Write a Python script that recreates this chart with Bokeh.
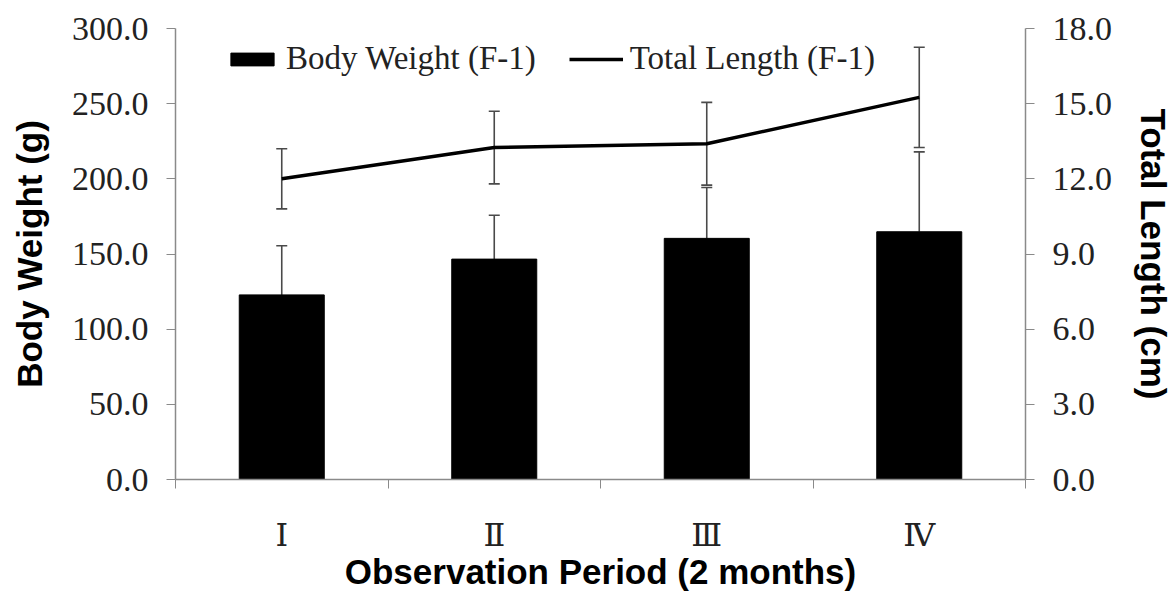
from bokeh.plotting import figure
from bokeh.models import (Range1d, LinearAxis, FixedTicker, NumeralTickFormatter,
                          ColumnDataSource, Whisker, TeeHead, Legend, LegendItem)
from bokeh.embed import file_html
from bokeh.resources import INLINE

# ---- data ----
categories = ["Ⅰ", "Ⅱ", "Ⅲ", "Ⅳ"]
body_weight = [122.8, 146.6, 160.4, 164.8]
body_weight_sd = [32.7, 29.2, 33.8, 53.1]
total_length = [12.0, 13.25, 13.4, 15.25]
total_length_sd = [1.2, 1.45, 1.65, 2.0]
weight_ticks = [0, 50, 100, 150, 200, 250, 300]
length_ticks = [0, 3, 6, 9, 12, 15, 18]

n = len(categories)
xpos = [i + 0.5 for i in range(n)]
bounds = [i for i in range(n + 1)]

src = ColumnDataSource(dict(
    x=xpos,
    bw=body_weight,
    bw_up=[v + s for v, s in zip(body_weight, body_weight_sd)],
    tl=total_length,
    tl_up=[v + s for v, s in zip(total_length, total_length_sd)],
    tl_lo=[v - s for v, s in zip(total_length, total_length_sd)],
))

AX_COL = "#8a8a8a"
TXT_COL = "#222222"
ERR_COL = "#4a4a4a"

p = figure(width=1176, height=593, output_backend="svg", toolbar_location=None,
           x_range=Range1d(0, n), y_range=Range1d(weight_ticks[0], weight_ticks[-1]),
           min_border_left=175, min_border_right=148, min_border_top=28,
           min_border_bottom=113)
p.outline_line_color = None
p.grid.visible = False
p.background_fill_color = "white"

p.extra_y_ranges = {"tl": Range1d(length_ticks[0], length_ticks[-1])}

bars = p.vbar(x="x", top="bw", width=0.4, source=src, fill_color="black", line_color="black")

bw_err = Whisker(base="x", upper="bw_up", lower="bw", source=src, dimension="height",
                 line_color=ERR_COL, line_width=1.6,
                 upper_head=TeeHead(size=11, line_color=ERR_COL, line_width=1.6),
                 lower_head=None)
p.add_layout(bw_err)

tl_err = Whisker(base="x", upper="tl_up", lower="tl_lo", source=src, dimension="height",
                 y_range_name="tl", line_color=ERR_COL, line_width=1.6,
                 upper_head=TeeHead(size=11, line_color=ERR_COL, line_width=1.6),
                 lower_head=TeeHead(size=11, line_color=ERR_COL, line_width=1.6))
p.add_layout(tl_err)

line = p.line(x="x", y="tl", source=src, y_range_name="tl", line_color="black", line_width=3.5)

# x axis
xa = p.xaxis[0]
xa.ticker = FixedTicker(ticks=xpos, minor_ticks=bounds)
xa.major_label_overrides = {x: c for x, c in zip(xpos, categories)}
xa.major_tick_out = 0
xa.major_tick_in = 0
xa.minor_tick_out = 9
xa.minor_tick_in = 0
xa.minor_tick_line_color = AX_COL
xa.axis_line_color = AX_COL
xa.axis_line_width = 1.5
xa.major_label_text_font = "DejaVu Serif"
xa.major_label_text_font_size = "32px"
xa.major_label_text_color = TXT_COL
xa.major_label_standoff = 27
xa.axis_label = "Observation Period (2 months)"
xa.axis_label_text_font = "Liberation Sans"
xa.axis_label_text_font_style = "bold"
xa.axis_label_text_font_size = "35px"
xa.axis_label_text_color = "black"
xa.axis_label_standoff = -5

# left axis
ya = p.yaxis[0]
ya.ticker = FixedTicker(ticks=weight_ticks)
ya.formatter = NumeralTickFormatter(format="0.0")
ya.minor_tick_line_color = None
ya.major_tick_out = 9
ya.major_tick_in = 0
ya.major_tick_line_color = AX_COL
ya.axis_line_color = AX_COL
ya.axis_line_width = 1.5
ya.major_label_text_font = "Liberation Serif"
ya.major_label_text_font_size = "34px"
ya.major_label_text_color = TXT_COL
ya.major_label_standoff = 18
ya.axis_label = "Body Weight (g)"
ya.axis_label_text_font = "Liberation Sans"
ya.axis_label_text_font_style = "bold"
ya.axis_label_text_font_size = "35px"
ya.axis_label_text_color = "black"
ya.axis_label_standoff = 20

# right axis
ra = LinearAxis(y_range_name="tl", ticker=FixedTicker(ticks=length_ticks),
                formatter=NumeralTickFormatter(format="0.0"))
ra.minor_tick_line_color = None
ra.major_tick_out = 9
ra.major_tick_in = 0
ra.major_tick_line_color = AX_COL
ra.axis_line_color = AX_COL
ra.axis_line_width = 1.5
ra.major_label_text_font = "Liberation Serif"
ra.major_label_text_font_size = "34px"
ra.major_label_text_color = TXT_COL
ra.major_label_standoff = 18
ra.axis_label = "Total Length (cm)"
ra.axis_label_text_font = "Liberation Sans"
ra.axis_label_text_font_style = "bold"
ra.axis_label_text_font_size = "35px"
ra.axis_label_text_color = "black"
ra.axis_label_standoff = 19
p.add_layout(ra, "right")

legend = Legend(items=[LegendItem(label="Body Weight (F-1)", renderers=[bars]),
                       LegendItem(label="Total Length (F-1)", renderers=[line])],
                orientation="horizontal", location=(50, 402),
                label_text_font="Liberation Serif", label_text_font_size="33px",
                label_text_color=TXT_COL, glyph_width=54, glyph_height=16,
                label_height=36, label_standoff=7, spacing=33, padding=0, margin=0,
                border_line_alpha=0, background_fill_alpha=0)
p.add_layout(legend)

open("out.html", "w").write(file_html(p, INLINE))
